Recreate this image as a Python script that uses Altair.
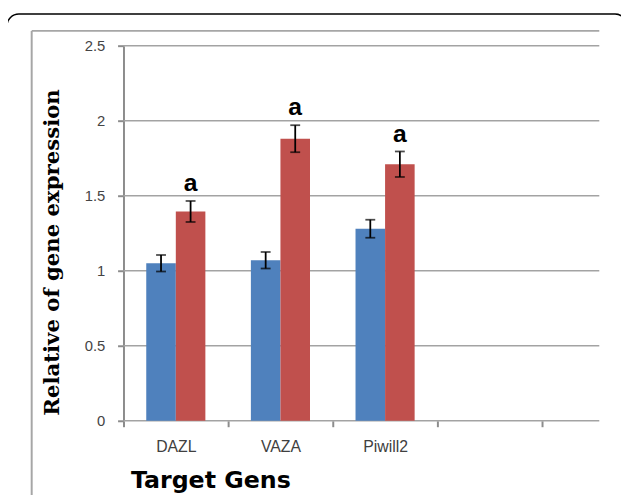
import altair as alt
import pandas as pd

genes = ["DAZL", "VAZA", "Piwill2"]
extra_slots = ["", " "]
series_names = ["Control", "Treated"]
series_colors = ["#4F81BD", "#C0504D"]
control = [1.05, 1.07, 1.28]
control_err = [0.055, 0.055, 0.06]
treated = [1.395, 1.88, 1.71]
treated_err = [0.07, 0.09, 0.085]
sig = ["a", "a", "a"]
y_ticks = [0, 0.5, 1, 1.5, 2, 2.5]

rows = []
for i, g in enumerate(genes):
    rows.append(dict(gene=g, series=series_names[0], value=control[i], err=control_err[i], sig=""))
    rows.append(dict(gene=g, series=series_names[1], value=treated[i], err=treated_err[i], sig=sig[i]))
df = pd.DataFrame(rows)
df["lo"] = df["value"] - df["err"]
df["hi"] = df["value"] + df["err"]

W, H = 482, 380
GREY = "#8c8c8c"

x_enc = alt.X(
    "gene:N",
    scale=alt.Scale(domain=genes + extra_slots, range=[0, 530], paddingInner=0, paddingOuter=0),
    sort=None,
    axis=alt.Axis(
        title="Target Gens", titleFont="DejaVu Sans", titleFontSize=24, titleFontWeight="bold",
        titleColor="black", titleX=7, titleY=68, titleAlign="left", titleAnchor="start",
        titleBaseline="alphabetic",
        labelAngle=0, labelFont="Liberation Sans", labelFontSize=16, labelColor="#404040",
        labelPadding=12, tickBand="extent", tickSize=6, tickColor=GREY, tickWidth=2,
        domain=False, grid=False,
    ),
)
y_scale = alt.Scale(domain=[0, 2.5], nice=False, zero=True)
y_enc = alt.Y(
    "value:Q", scale=y_scale,
    axis=alt.Axis(
        title="Relative of gene expression", titleFont="DejaVu Serif", titleFontSize=21.5,
        titleFontWeight="bold", titleColor="black", titleAngle=270, titleX=-72, titleY=209,
        titleAlign="center", titleBaseline="middle",
        values=y_ticks, format="~g", labelFont="Liberation Sans", labelFontSize=15,
        labelColor="#444444", labelPadding=13, tickSize=6, tickColor=GREY, tickWidth=2,
        domainColor=GREY, domainWidth=2, grid=False,
    ),
)
xoff = alt.XOffset("series:N", scale=alt.Scale(domain=series_names, paddingInner=0, paddingOuter=0.77))

grid = alt.Chart(pd.DataFrame({"tick": y_ticks})).mark_rule(color="#a3a3a3", strokeWidth=1.6).encode(
    x=alt.value(0), x2=alt.value(W), y=alt.Y("tick:Q", scale=y_scale)
)

base = alt.Chart(df)
bars = base.mark_bar().encode(
    x=x_enc, y=y_enc, xOffset=xoff,
    color=alt.Color("series:N", scale=alt.Scale(domain=series_names, range=series_colors), legend=None),
)
err_rule = base.mark_rule(color="black", strokeWidth=1.8).encode(
    x="gene:N", xOffset=xoff, y=alt.Y("lo:Q", scale=y_scale), y2="hi:Q"
)
cap_lo = base.mark_tick(color="black", size=10, thickness=1.8, orient="horizontal").encode(
    x="gene:N", xOffset=xoff, y=alt.Y("lo:Q", scale=y_scale)
)
cap_hi = base.mark_tick(color="black", size=10, thickness=1.8, orient="horizontal").encode(
    x="gene:N", xOffset=xoff, y=alt.Y("hi:Q", scale=y_scale)
)
labels = base.mark_text(font="Liberation Sans", fontSize=25, fontWeight="bold", color="black",
                        baseline="alphabetic", dy=-10).encode(
    x="gene:N", xOffset=xoff, y=alt.Y("hi:Q", scale=y_scale), text="sig:N"
)

deco = alt.Chart(pd.DataFrame({"k": [0]}))
outer = deco.mark_rect(filled=False, stroke="black", strokeWidth=1.5, cornerRadius=12).encode(
    x=alt.value(-118), x2=alt.value(510), y=alt.value(-32), y2=alt.value(520)
)
inner_top = deco.mark_rule(color="#a6a6a6", strokeWidth=2).encode(
    x=alt.value(-93), x2=alt.value(W), y=alt.value(-15)
)
inner_left = deco.mark_rule(color="#a6a6a6", strokeWidth=2).encode(
    x=alt.value(-93), y=alt.value(-15), y2=alt.value(520)
)

chart = alt.layer(grid, bars, err_rule, cap_lo, cap_hi, labels, outer, inner_top, inner_left).properties(
    width=W, height=H,
    autosize=alt.AutoSizeParams(type="none"),
    padding={"left": 117, "top": 35, "right": 22, "bottom": 72},
    background="white",
).configure_view(stroke=None)

chart.save("out.html", embed_options={"renderer": "svg", "actions": False})
